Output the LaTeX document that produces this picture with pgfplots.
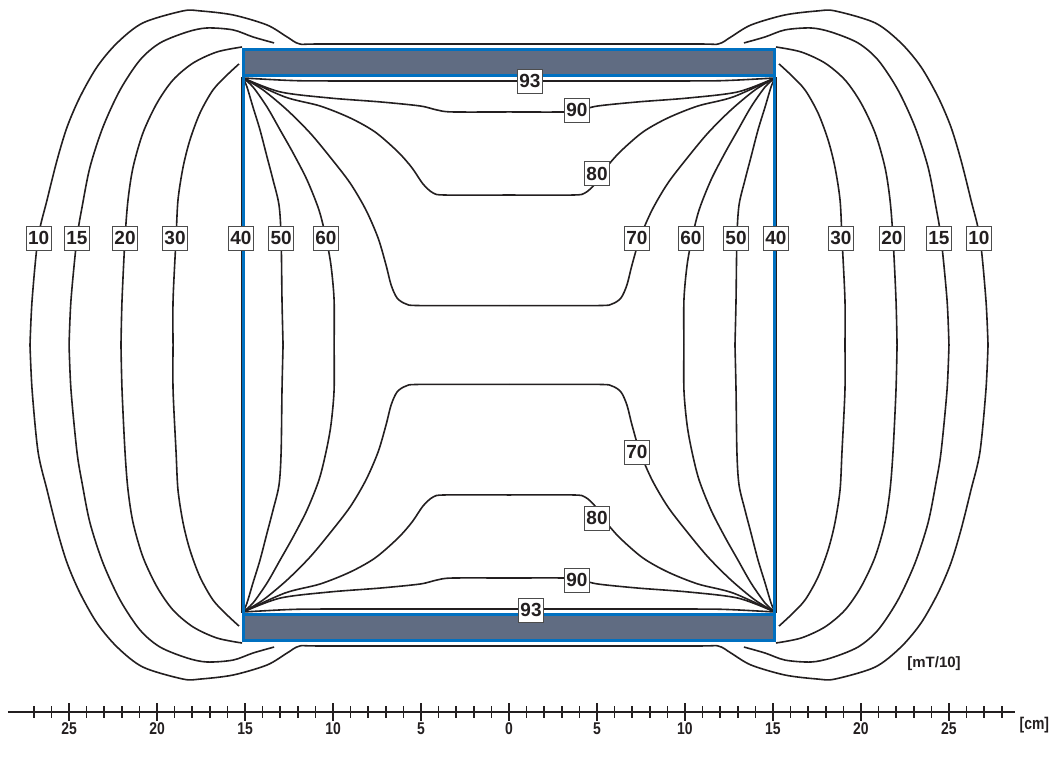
\documentclass[border=0pt]{standalone}
\usepackage{fontspec}
\setmainfont{Liberation Sans}
\newfontfamily\narrowfont[FakeStretch=0.82]{Liberation Sans Bold}
\usepackage{pgfplots}
\pgfplotsset{compat=1.18}
\usepackage{pgfplotstable}

\definecolor{plate}{RGB}{96,108,130}
\definecolor{poleblue}{RGB}{0,112,192}
\definecolor{ink}{RGB}{35,31,32}

\pgfplotsset{field/.style={ink, line width=1.6pt, smooth, tension=0.5}}

% one quarter of a field line, drawn in all four quadrants
\newcommand\mirrorfour[1]{%
  \addplot[field] table[x=x, y=y] {#1};
  \addplot[field] table[x expr=-\thisrow{x}, y=y] {#1};
  \addplot[field] table[x=x, y expr=-\thisrow{y}] {#1};
  \addplot[field] table[x expr=-\thisrow{x}, y expr=-\thisrow{y}] {#1};
}

\begin{document}

% field lines, upper left quarter, in cm from the centre
\pgfplotstableread{
x y
-27.22 0
-27.10 2.56
-26.76 6.08
-26.25 8.24
-25.68 10.51
-25.11 12.39
-24.38 14.09
-23.41 15.80
-22.27 17.16
-20.80 18.30
-18.52 18.98
-17.56 18.98
-15.68 18.75
-13.75 18.18
-12.61 17.50
-11.88 17.10
-10.50 17.10
0 17.10
}\tTen

\pgfplotstableread{
x y
-25.00 0
-24.89 2.56
-24.55 6.08
-24.26 7.84
-23.81 10.11
-23.07 12.39
-22.10 14.49
-20.97 16.19
-19.83 17.16
-18.30 17.78
-17.16 18.01
-15.68 17.90
-14.55 17.50
-13.35 17.16
}\tFifteen

\pgfplotstableread{
x y
-22.05 0
-21.99 2.56
-21.82 6.08
-21.65 8.24
-21.36 10.11
-20.80 12.05
-20.00 13.75
-19.09 15.06
-17.95 16.02
-16.59 16.65
-15.17 16.93
}\tTwenty

\pgfplotstableread{
x y
-19.09 0
-19.09 2.56
-18.92 6.08
-18.81 8.24
-18.52 10.11
-18.13 11.65
-17.56 13.18
-16.82 14.49
-16.02 15.34
-15.34 15.97
}\tThirty

\pgfplotstableread{
x y
-12.84 0
-12.90 2.56
-12.95 6.08
-13.07 7.95
-13.41 9.38
-13.75 10.68
-14.15 12.22
-14.55 13.52
-14.89 14.66
-15.11 15.17
}\tFifty

\pgfplotstableread{
x y
-9.94 0
-9.94 2.56
-10.12 4.55
-10.40 6.08
-10.80 7.67
-11.48 9.38
-12.27 10.91
-13.01 12.22
-13.75 13.52
-14.55 14.66
-15.11 15.17
}\tSixty

\pgfplotstableread{
x y
-15.11 15.17
-13.98 14.49
-12.61 13.35
-11.31 12.05
-10.17 10.68
-9.03 9.20
-8.13 7.67
-7.44 6.08
-6.99 4.55
-6.70 3.41
-6.36 2.67
-5.85 2.33
-5.06 2.24
0 2.24
}\tSeventy

\pgfplotstableread{
x y
-15.11 15.17
-12.73 14.09
-10.74 13.58
-9.03 12.90
-7.61 12.10
-6.31 10.97
-5.51 10.06
-4.89 9.15
-4.32 8.64
-3.64 8.52
0 8.52
}\tEighty

\pgfplotstableread{
x y
-15.11 15.17
-13.01 14.38
-10.17 14.03
-7.33 13.81
-5.06 13.58
-4.09 13.35
-3.24 13.24
0 13.24
}\tNinety

\pgfplotstableread{
x y
-15.11 15.17
-12.50 15.03
-10.17 15.00
0 15.00
}\tNinetyThree

% value boxes [mT/10]
\pgfplotstableread{
x y l
-26.73 6.08 10
-24.55 6.08 15
-21.82 6.08 20
-18.98 6.08 30
-15.23 6.08 40
-12.95 6.08 50
-10.40 6.08 60
7.27 6.08 70
10.34 6.08 60
12.90 6.08 50
15.17 6.08 40
18.86 6.08 30
21.76 6.08 20
24.43 6.08 15
26.70 6.08 10
7.27 -6.08 70
5.00 9.72 80
5.00 -9.83 80
3.86 13.35 90
3.86 -13.35 90
1.19 15.00 93
1.25 -15.06 93
}\tLabels

\begin{tikzpicture}
\useasboundingbox (0,0) rectangle (1052pt,757pt);
\begin{axis}[
    at={(8pt,45pt)}, anchor=south west,
    scale only axis,
    width=1007pt, height=712pt,
    xmin=-28.47, xmax=28.75,
    ymin=-20.85, ymax=19.6,
    axis x line=bottom,
    axis y line=none,
    x axis line style={-, line width=2.2pt, ink},
    xtick={-25,-20,-15,-10,-5,0,5,10,15,20,25},
    xticklabels={25,20,15,10,5,0,5,10,15,20,25},
    minor xtick={-27,-26,...,28},
    tick align=center,
    major tick length=18pt,
    minor tick length=12pt,
    tick style={ink, line width=1.6pt},
    xticklabel style={font=\narrowfont\fontsize{17}{17}\selectfont, text=ink, yshift=2pt},
    clip=false,
]

\mirrorfour{\tTen}
\mirrorfour{\tFifteen}
\mirrorfour{\tTwenty}
\mirrorfour{\tThirty}
\mirrorfour{\tFifty}
\mirrorfour{\tSixty}
\mirrorfour{\tSeventy}
\mirrorfour{\tEighty}
\mirrorfour{\tNinety}
\mirrorfour{\tNinetyThree}

% 40 line along the side of the gap
\addplot[ink, line width=1.6pt] coordinates {(-15.2,15.2) (-15.2,-15.2)};
\addplot[ink, line width=1.6pt] coordinates {(15.2,15.2) (15.2,-15.2)};

% pole plates
\addplot[poleblue, line width=2.5pt] coordinates {(-15.08,16.78) (-15.08,-16.78)};
\addplot[poleblue, line width=2.5pt] coordinates {(15.08,16.78) (15.08,-16.78)};
\addplot[fill=plate, draw=poleblue, line width=2.5pt] coordinates {(-15.08,15.3) (15.08,15.3) (15.08,16.78) (-15.08,16.78) (-15.08,15.3)};
\addplot[fill=plate, draw=poleblue, line width=2.5pt] coordinates {(-15.08,-15.3) (15.08,-15.3) (15.08,-16.78) (-15.08,-16.78) (-15.08,-15.3)};

\addplot[draw=none, mark=none, nodes near coords, point meta=explicit symbolic,
    every node near coord/.append style={anchor=center, fill=white, draw=black!70,
        line width=0.8pt, inner sep=0pt, minimum width=25pt, minimum height=24pt,
        font=\bfseries\fontsize{19}{19}\selectfont, text=ink}]
    table[x=x, y=y, meta=l] {\tLabels};

\node[font=\bfseries\fontsize{15}{15}\selectfont, text=ink] at (axis cs:24.15,-18.13) {[mT/10]};
\node[font=\narrowfont\fontsize{17}{17}\selectfont, text=ink] at (axis cs:29.85,-21.6) {[cm]};
\end{axis}
\end{tikzpicture}
\end{document}
